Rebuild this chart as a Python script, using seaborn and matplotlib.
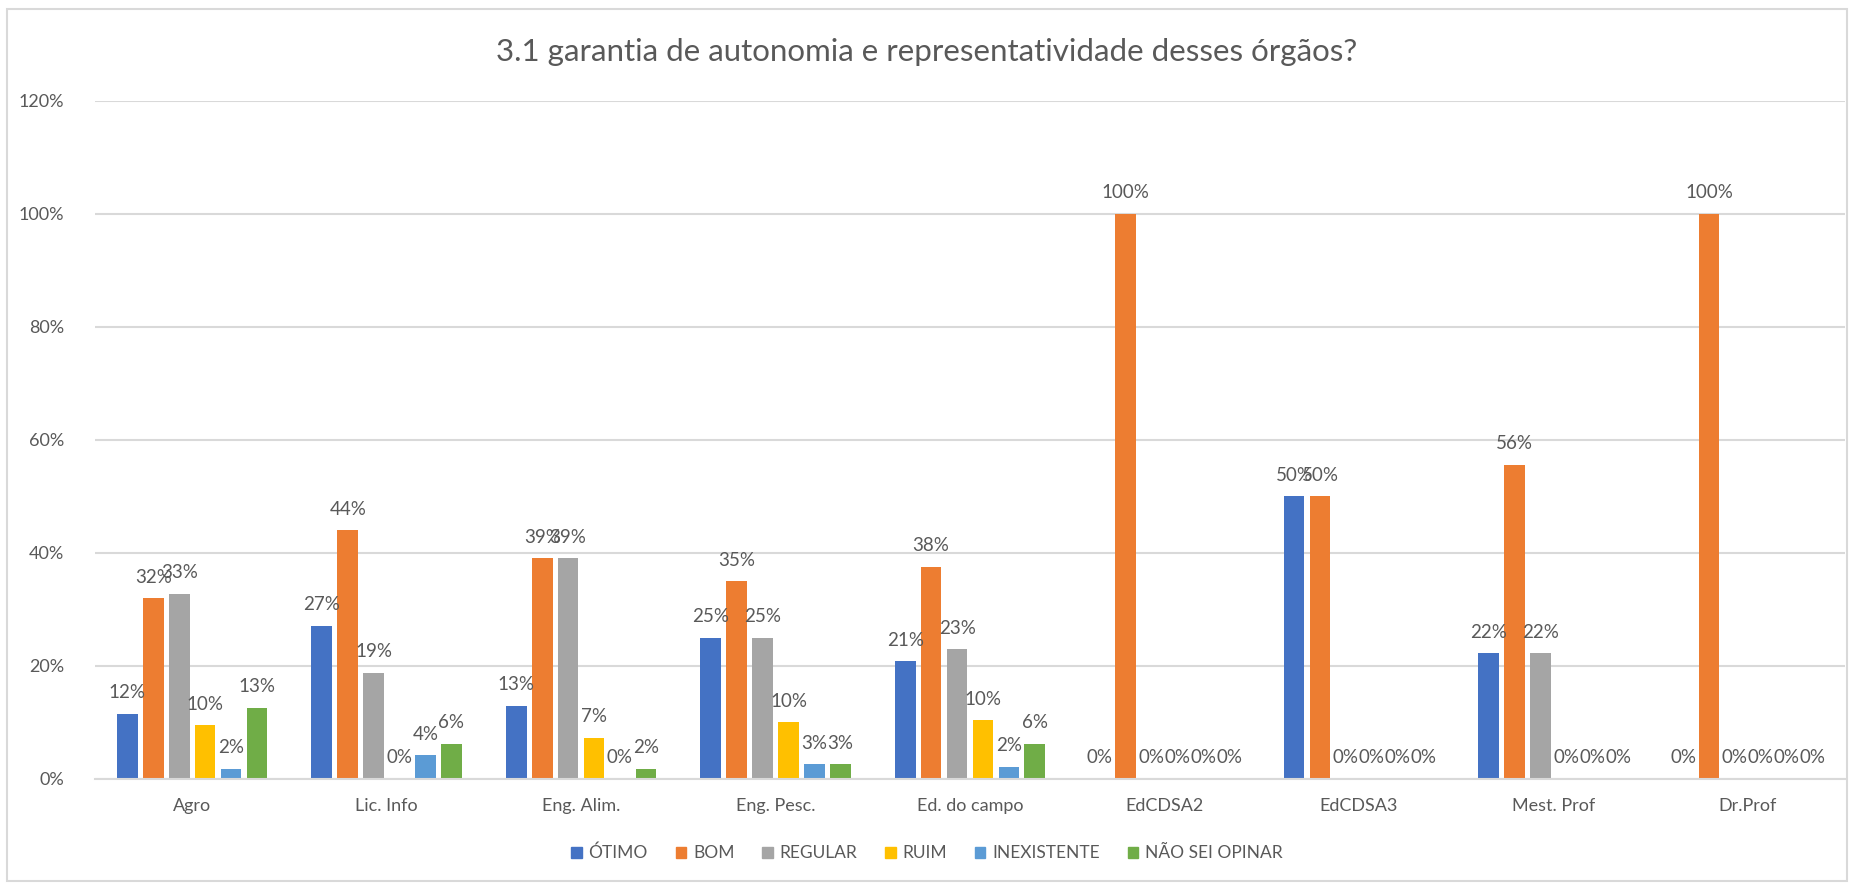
import pandas as pd
import numpy as np
import matplotlib
matplotlib.use('Agg')
import matplotlib.pyplot as plt
import seaborn as sns
from matplotlib.patches import Rectangle

# data (in %)
cursos = ['Agro', 'Lic. Info', 'Eng. Alim.', 'Eng. Pesc.', 'Ed. do campo',
          'EdCDSA2', 'EdCDSA3', 'Mest. Prof', 'Dr.Prof']
respostas = ['ÓTIMO', 'BOM', 'REGULAR', 'RUIM', 'INEXISTENTE', 'NÃO SEI OPINAR']
otimo = [11.5, 27.1, 12.9, 25.0, 20.8, 0, 50, 22.2, 0]
bom = [32.0, 44.0, 39.0, 35.0, 37.5, 100, 50, 55.6, 100]
regular = [32.8, 18.8, 39.0, 25.0, 22.9, 0, 0, 22.2, 0]
ruim = [9.5, 0, 7.3, 10.0, 10.4, 0, 0, 0, 0]
inexistente = [1.8, 4.2, 0, 2.6, 2.1, 0, 0, 0, 0]
nao_sei = [12.6, 6.2, 1.8, 2.6, 6.2, 0, 0, 0, 0]

cores = ['#4472C4', '#ED7D31', '#A5A5A5', '#FFC000', '#5B9BD5', '#70AD47']
texto = '#595959'
grade = '#D9D9D9'

series = [otimo, bom, regular, ruim, inexistente, nao_sei]
rows = []
for resp, vals in zip(respostas, series):
    for c, v in zip(cursos, vals):
        rows.append({'curso': c, 'resposta': resp, 'valor': v})
df = pd.DataFrame(rows)

sns.set_style('white')
plt.rcParams['font.family'] = ['Lato', 'DejaVu Sans']

fig = plt.figure(figsize=(18.54, 8.85), dpi=100)
ax = fig.add_axes([0.0512, 0.12, 0.944, 0.766])

sns.barplot(data=df, x='curso', y='valor', hue='resposta', order=cursos,
            hue_order=respostas, palette=cores, width=0.8, ax=ax,
            errorbar=None, saturation=1, legend=False)

# narrow bars, leaving white gaps like the original
for p in ax.patches:
    w = p.get_width()
    p.set_x(p.get_x() + w * 0.1)
    p.set_width(w * 0.8)
    p.set_linewidth(0)

for cont in ax.containers:
    ax.bar_label(cont, labels=[f'{v:.0f}%' for v in cont.datavalues],
                 padding=9, fontsize=13.5, color=texto)

ax.set_ylim(0, 120)
ax.set_xlim(-0.5, len(cursos) - 0.5)
ax.set_yticks(np.arange(0, 121, 20))
ax.set_yticklabels([f'{t}%' for t in range(0, 121, 20)])
ax.yaxis.grid(True, color=grade, linewidth=1.5)
ax.set_axisbelow(True)
for s in ['top', 'right', 'left']:
    ax.spines[s].set_visible(False)
ax.spines['bottom'].set_color(grade)
ax.spines['bottom'].set_linewidth(1.5)
ax.tick_params(axis='both', length=0, labelsize=13, colors=texto)
ax.tick_params(axis='x', pad=14)
ax.tick_params(axis='y', pad=22)
ax.set_xlabel('')
ax.set_ylabel('')

fig.suptitle('3.1 garantia de autonomia e representatividade desses órgãos?',
             y=0.941, va='center', fontsize=22.5, color=texto)

# legend
handles = [Rectangle((0, 0), 1, 1, color=c) for c in cores]
fig.legend(handles, respostas, loc='center', bbox_to_anchor=(0.5, 0.036),
           ncol=6, frameon=False, fontsize=12.5, labelcolor=texto,
           handlelength=0.6, handleheight=0.6, handletextpad=0.4,
           columnspacing=1.6)

# chart border
fig.patches.append(Rectangle((0.004, 0.004), 0.992, 0.986, transform=fig.transFigure,
                             fill=False, edgecolor=grade, linewidth=1.5))

plt.savefig('out.png', dpi=100)
